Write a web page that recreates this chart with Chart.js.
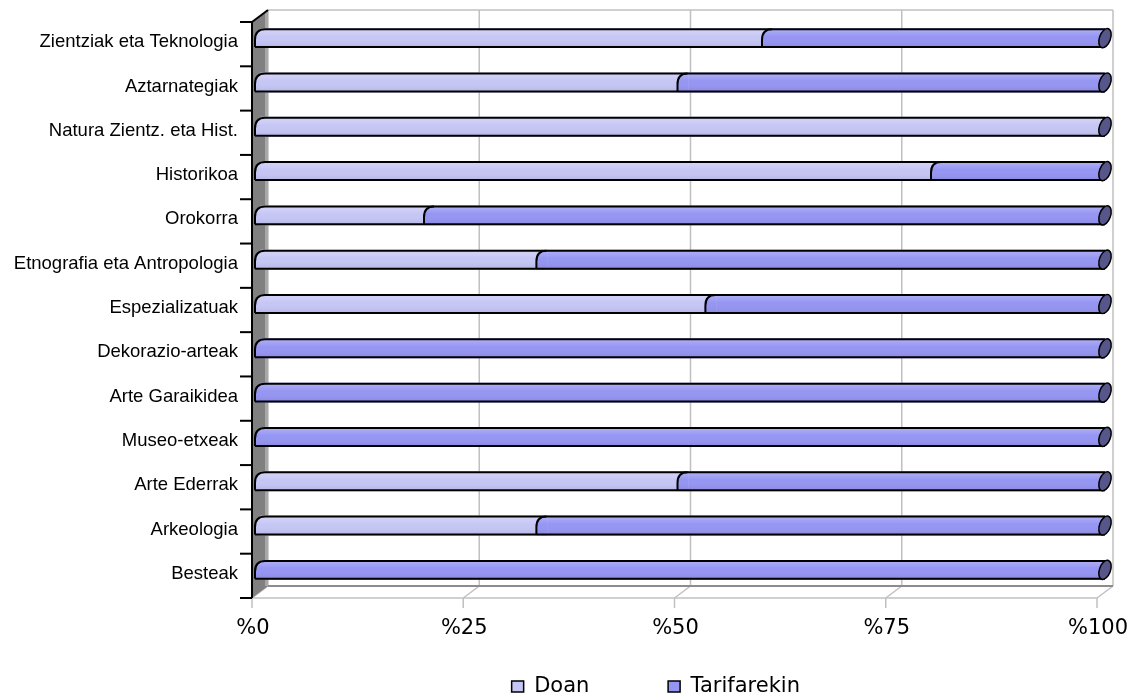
<!DOCTYPE html>
<html>
<head>
<meta charset="utf-8">
<script src="https://cdn.jsdelivr.net/npm/chart.js@4.4.1/dist/chart.umd.min.js"></script>
<style>
  html, body { margin: 0; padding: 0; background: #fff; }
  #wrap { width: 1140px; height: 695px; }
</style>
</head>
<body>
<div id="wrap"><canvas id="chart" width="1140" height="695"></canvas></div>
<script>
const categories = [
  "Zientziak eta Teknologia",
  "Aztarnategiak",
  "Natura Zientz. eta Hist.",
  "Historikoa",
  "Orokorra",
  "Etnografia eta Antropologia",
  "Espezializatuak",
  "Dekorazio-arteak",
  "Arte Garaikidea",
  "Museo-etxeak",
  "Arte Ederrak",
  "Arkeologia",
  "Besteak",
];
const doan = [60, 50, 100, 80, 20, 33.3, 53.3, 0, 0, 0, 50, 33.3, 0];
const tarifarekin = [40, 50, 0, 20, 80, 66.7, 46.7, 100, 100, 100, 50, 66.7, 100];
const xTicks = [0, 25, 50, 75, 100];

const seriesColors = ["#C6C6F5", "#9595F3"];
const wallColor = "#808080";
const gridColor = "#C0C0C0";
const D = 8; // 3d depth, horizontal
const DY = 6; // 3d depth, vertical

function line(ctx, x1, y1, x2, y2) {
  ctx.beginPath();
  ctx.moveTo(x1, y1);
  ctx.lineTo(x2, y2);
  ctx.stroke();
}

// the curved edge where a cylinder segment starts
function capPath(ctx, xb, top, bottom) {
  const h = bottom - top;
  ctx.moveTo(xb + 5, top);
  ctx.quadraticCurveTo(xb - 5, top, xb - 5, top + h * 0.6);
  ctx.lineTo(xb - 5, bottom);
}

function capPatch(ctx, xb, top, bottom, leftColor, rightColor) {
  ctx.save();
  ctx.beginPath();
  ctx.rect(xb - 6, top, 12, bottom - top);
  ctx.clip();
  ctx.fillStyle = leftColor;
  ctx.fillRect(xb - 6, top, 12, bottom - top);
  ctx.beginPath();
  capPath(ctx, xb, top, bottom);
  ctx.lineTo(xb + 6, bottom);
  ctx.lineTo(xb + 6, top);
  ctx.closePath();
  ctx.fillStyle = rightColor;
  ctx.fill();
  ctx.restore();
}

const frame3d = {
  id: "frame3d",
  beforeDatasetsDraw(chart) {
    const { ctx, chartArea: a, scales } = chart;
    const x = scales.x, y = scales.y;
    const x0 = x.getPixelForValue(0), x1 = x.getPixelForValue(100);
    ctx.save();
    ctx.lineCap = "butt";

    // back wall
    ctx.strokeStyle = gridColor;
    ctx.lineWidth = 1.5;
    xTicks.forEach((v) => {
      const px = x.getPixelForValue(v) + D;
      line(ctx, px, a.top - DY, px, a.bottom - DY);
    });
    line(ctx, x0 + D, a.top - DY, x1 + D, a.top - DY);

    // floor
    line(ctx, x0 - D, a.bottom + DY, x1 - D, a.bottom + DY);
    xTicks.forEach((v) => {
      const px = x.getPixelForValue(v);
      line(ctx, px + D, a.bottom - DY, px - D, a.bottom + DY);
      line(ctx, px - D, a.bottom + DY, px - D, a.bottom + DY + 10);
    });
    ctx.strokeStyle = "#8C8C8C";
    ctx.lineWidth = 2;
    line(ctx, x0 + D, a.bottom - DY, x1 + D, a.bottom - DY);

    // side wall
    ctx.fillStyle = wallColor;
    ctx.beginPath();
    ctx.moveTo(x0 - D, a.top + DY);
    ctx.lineTo(x0 + D, a.top - DY);
    ctx.lineTo(x0 + D, a.bottom - DY);
    ctx.lineTo(x0 - D, a.bottom + DY);
    ctx.closePath();
    ctx.fill();
    ctx.strokeStyle = "#A8A8A8";
    ctx.lineWidth = 3;
    line(ctx, x0 + D - 1.5, a.top - DY + 2, x0 + D - 1.5, a.bottom - DY);

    ctx.strokeStyle = "#000";
    ctx.lineWidth = 2;
    line(ctx, x0 - D, a.top + DY, x0 - D, a.bottom + DY);
    line(ctx, x0 - D, a.top + DY, x0 + D, a.top - DY);
    for (let i = 0; i <= categories.length; i++) {
      const py = y.getPixelForValue(i - 0.5) + DY;
      line(ctx, x0 - D - 12, py, x0 - D, py);
    }
    ctx.restore();
  },
  afterDatasetsDraw(chart) {
    const { ctx, scales } = chart;
    const x = scales.x;
    const x0 = x.getPixelForValue(0), x1 = x.getPixelForValue(100);
    const metas = [chart.getDatasetMeta(0), chart.getDatasetMeta(1)];
    const values = [doan, tarifarekin];
    ctx.save();
    categories.forEach((c, i) => {
      const el = metas[0].data[i].getProps(["y", "height"], true);
      const top = el.y - el.height / 2, bottom = el.y + el.height / 2;

      // left end of the cylinder
      const first = values[0][i] > 0 ? 0 : 1;
      capPatch(ctx, x0, top, bottom, wallColor, seriesColors[first]);
      // boundary between the two series
      let xb = null;
      if (values[0][i] > 0 && values[1][i] > 0) {
        xb = metas[1].data[i].getProps(["base"], true).base;
        capPatch(ctx, xb, top, bottom, seriesColors[0], seriesColors[1]);
      }

      // shading along the cylinder
      const g = ctx.createLinearGradient(0, top, 0, bottom);
      g.addColorStop(0, "rgba(255,255,255,0.28)");
      g.addColorStop(0.45, "rgba(255,255,255,0)");
      g.addColorStop(1, "rgba(0,0,40,0.10)");
      ctx.fillStyle = g;
      ctx.beginPath();
      capPath(ctx, x0, top, bottom);
      ctx.lineTo(x1, bottom);
      ctx.lineTo(x1, top);
      ctx.closePath();
      ctx.fill();

      // outlines
      ctx.strokeStyle = "#000";
      ctx.lineWidth = 2;
      ctx.beginPath();
      capPath(ctx, x0, top + 1, bottom - 1);
      ctx.stroke();
      if (xb !== null) {
        ctx.beginPath();
        capPath(ctx, xb, top + 1, bottom - 1);
        ctx.stroke();
      }
      line(ctx, x0 + 5, top + 1, x1, top + 1);
      line(ctx, x0 - 5, bottom - 1, x1, bottom - 1);

      // right end cap
      ctx.beginPath();
      ctx.ellipse(x1, el.y, 5.5, el.height / 2, 0.35, 0, Math.PI * 2);
      ctx.fillStyle = "#56568A";
      ctx.fill();
      ctx.lineWidth = 1.5;
      ctx.stroke();
    });
    ctx.restore();
  },
};

const legendPad = [10, 8];

new Chart(document.getElementById("chart"), {
  type: "bar",
  data: {
    labels: categories,
    datasets: [
      {
        label: "Doan",
        data: doan,
        backgroundColor: seriesColors[0],
        borderColor: "#000",
        borderWidth: 0,
        barPercentage: 0.9,
        categoryPercentage: 0.5,
      },
      {
        label: "Tarifarekin",
        data: tarifarekin,
        backgroundColor: seriesColors[1],
        borderColor: "#000",
        borderWidth: 0,
        barPercentage: 0.9,
        categoryPercentage: 0.5,
      },
    ],
  },
  options: {
    indexAxis: "y",
    responsive: false,
    animation: false,
    layout: { padding: { top: 16, right: 35, left: 0, bottom: -12 } },
    scales: {
      x: {
        stacked: true,
        min: 0,
        max: 100,
        afterBuildTicks: (scale) => {
          scale.ticks = xTicks.map((v) => ({ value: v }));
        },
        afterFit: (scale) => {
          scale.height = 72;
          scale.paddingLeft = 0;
          scale.paddingRight = 0;
        },
        grid: { display: false, drawTicks: false },
        border: { display: false },
        ticks: {
          callback: (v) => "%" + v,
          font: { family: "'DejaVu Sans', Verdana, sans-serif", size: 21 },
          color: "#000",
          padding: 24,
          labelOffset: -7,
          maxRotation: 0,
        },
      },
      y: {
        stacked: true,
        afterFit: (scale) => {
          scale.width = 260;
          scale.paddingTop = 0;
          scale.paddingBottom = 0;
        },
        grid: { display: false, drawTicks: false },
        border: { display: false },
        ticks: {
          autoSkip: false,
          font: { family: "'Liberation Sans', Arial, sans-serif", size: 18.5 },
          color: "#000",
          padding: 22,
          labelOffset: 4,
        },
      },
    },
    plugins: {
      tooltip: { enabled: false },
      legend: {
        position: "bottom",
        fullSize: false,
        labels: {
          boxWidth: 12,
          boxHeight: 11,
          padding: 12,
          color: "#000",
          font: { family: "'DejaVu Sans', Verdana, sans-serif", size: 21 },
          generateLabels: (chart) => {
            const items = Chart.defaults.plugins.legend.labels.generateLabels(chart);
            items.forEach((item, i) => {
              item.text = item.text + " ".repeat(legendPad[i]);
              item.lineWidth = 1.5;
              item.strokeStyle = "#000";
            });
            return items;
          },
        },
      },
    },
  },
  plugins: [frame3d],
});
</script>
</body>
</html>
